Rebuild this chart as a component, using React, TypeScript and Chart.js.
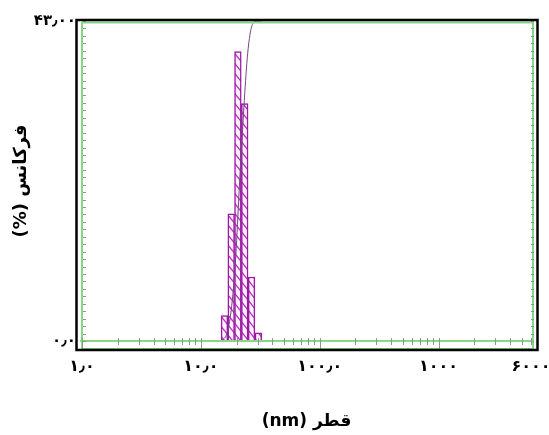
import React, { useEffect, useRef } from 'react';
import { Chart, registerables } from 'chart.js';
Chart.register(...registerables);

// Histogram bins (diameter, nm) and frequency (%)
const binDiameters = [15.8, 18.0, 20.5, 23.4, 26.7, 30.5];
const frequencies = [3.4, 17.1, 38.9, 31.9, 8.6, 1.1];
// Cumulative curve (upper bin edges, %)
const cumulativeDiameters = [14.8, 16.9, 19.2, 21.9, 25.0, 28.5, 32.5];
const cumulativePercent = [0, 3.4, 20.5, 59.4, 91.3, 99.9, 100];
// Axes
const xTickValues = [1, 10, 100, 1000, 6000];
const xTickLabels = ['۱٫۰', '۱۰٫۰', '۱۰۰٫۰', '۱۰۰۰', '۶۰۰۰'];
const yTickValues = [0, 43];
const yTickLabels = ['۰٫۰', '۴۳٫۰۰'];
const xMin = 1;
const xMax = 6000;
const yMax = 43;
const xTitle = '\u202Bقطر (nm)\u202C';
const yTitle = '\u202Bفرکانس (%)\u202C';

const FONT = "'DejaVu Sans', 'Liberation Serif', serif";

function makeHatch(): CanvasPattern | string {
  const c = document.createElement('canvas');
  c.width = 8;
  c.height = 10;
  const g = c.getContext('2d');
  if (!g) return '#f0c0f0';
  g.fillStyle = '#fdf2fd';
  g.fillRect(0, 0, 8, 10);
  g.strokeStyle = '#c030c8';
  g.lineWidth = 1.4;
  g.beginPath();
  g.moveTo(-8, -10);
  g.lineTo(16, 20);
  g.moveTo(-16, -10);
  g.lineTo(8, 20);
  g.moveTo(0, -10);
  g.lineTo(24, 20);
  g.stroke();
  const p = g.createPattern(c, 'repeat');
  return p || '#f0c0f0';
}

const framePlugin = {
  id: 'frame',
  afterDatasetsDraw(chart: any) {
    const { ctx, chartArea } = chart;
    const { left, right, top, bottom } = chartArea;
    const xs = chart.scales.x;
    const ys = chart.scales.y;
    ctx.save();
    // green inner frame
    ctx.strokeStyle = '#86d886';
    ctx.lineWidth = 2;
    ctx.beginPath();
    ctx.moveTo(left, top + 1);
    ctx.lineTo(left, bottom + 9);
    ctx.moveTo(right + 2, top + 1);
    ctx.lineTo(right + 2, bottom + 9);
    ctx.moveTo(left - 2, bottom);
    ctx.lineTo(right + 2, bottom);
    ctx.moveTo(left, top + 1.5);
    ctx.lineTo(right + 2, top + 1.5);
    ctx.moveTo(left, bottom + 8);
    ctx.lineTo(right + 2, bottom + 8);
    ctx.stroke();
    // x minor/major log ticks
    ctx.strokeStyle = '#8a9a8a';
    ctx.lineWidth = 1;
    ctx.beginPath();
    for (let d = 1; d <= 1000; d *= 10) {
      for (let k = 1; k <= 9; k++) {
        const v = d * k;
        if (v > xMax) break;
        const px = Math.round(xs.getPixelForValue(v)) + 0.5;
        if (k === 1) {
          ctx.moveTo(px, bottom - 3);
          ctx.lineTo(px, bottom + 8);
        } else {
          ctx.moveTo(px, bottom - 3);
          ctx.lineTo(px, bottom + 4);
        }
      }
    }
    // y ticks on left and right
    for (let v = 0; v <= yMax; v++) {
      const py = Math.round(ys.getPixelForValue(v)) + 0.5;
      ctx.moveTo(left + 1, py);
      ctx.lineTo(left + 4, py);
      ctx.moveTo(right, py);
      ctx.lineTo(right + 3, py);
    }
    ctx.stroke();
    // black outer frame
    ctx.strokeStyle = '#000000';
    ctx.lineWidth = 2.5;
    ctx.strokeRect(left - 5.5, top - 1, right - left + 12, bottom - top + 10);
    ctx.restore();
  },
};

export default function App() {
  const ref = useRef<HTMLCanvasElement | null>(null);
  useEffect(() => {
    if (!ref.current) return;
    const hatch = makeHatch();
    const chart = new Chart(ref.current, {
      type: 'bar',
      data: {
        datasets: [
          {
            type: 'line',
            data: cumulativeDiameters.map((x, i) => ({ x, y: cumulativePercent[i] })),
            borderColor: '#6e4a7e',
            borderWidth: 1,
            pointRadius: 0,
            cubicInterpolationMode: 'monotone',
            xAxisID: 'x',
            yAxisID: 'y2',
            order: 0,
          } as any,
          {
            type: 'bar',
            data: binDiameters.map((x, i) => ({ x, y: frequencies[i] })),
            backgroundColor: hatch as any,
            borderColor: '#9a1aa4',
            borderWidth: 1.5,
            barPercentage: 1,
            categoryPercentage: 1,
            xAxisID: 'x',
            yAxisID: 'y',
            order: 1,
          } as any,
        ],
      },
      options: {
        responsive: false,
        animation: false,
        layout: { padding: { left: 0, right: 18, top: 21, bottom: 0 } },
        plugins: { legend: { display: false }, tooltip: { enabled: false } },
        scales: {
          x: {
            type: 'logarithmic',
            min: xMin,
            max: xMax,
            position: 'bottom',
            grid: { display: false, drawTicks: false },
            border: { display: false },
            afterBuildTicks: (s: any) => {
              s.ticks = xTickValues.map((v) => ({ value: v }));
            },
            afterFit: (s: any) => {
              s.height = 94;
              s.paddingLeft = 0;
              s.paddingRight = 0;
            },
            ticks: {
              autoSkip: false,
              maxRotation: 0,
              padding: 16,
              color: '#000',
              font: { family: FONT, size: 16, weight: 'bold' },
              callback: (_v: any, i: number) => xTickLabels[i],
            },
            title: {
              display: true,
              text: xTitle,
              color: '#000',
              padding: { top: 0, bottom: 3 },
              font: { family: FONT, size: 17, weight: 'bold' },
            },
          },
          y: {
            type: 'linear',
            min: 0,
            max: yMax,
            position: 'left',
            grid: { display: false, drawTicks: false },
            border: { display: false },
            afterBuildTicks: (s: any) => {
              s.ticks = yTickValues.map((v) => ({ value: v }));
            },
            afterFit: (s: any) => {
              s.width = 82;
              s.paddingTop = 0;
              s.paddingBottom = 0;
            },
            ticks: {
              autoSkip: false,
              padding: 6,
              color: '#000',
              font: { family: FONT, size: 15, weight: 'bold' },
              callback: (_v: any, i: number) => yTickLabels[i],
            },
            title: {
              display: true,
              text: yTitle,
              color: '#000',
              padding: { top: 11, bottom: 0 },
              font: { family: FONT, size: 18, weight: 'bold' },
            },
          },
          y2: { type: 'linear', display: false, min: 0, max: 100 },
        },
      } as any,
      plugins: [framePlugin],
    });
    return () => chart.destroy();
  }, []);
  return (
    <div style={{ position: 'absolute', left: 0, top: 0, width: 549, height: 435, background: '#fff' }}>
      <canvas ref={ref} width={549} height={435} style={{ width: 549, height: 435, display: 'block' }} />
    </div>
  );
}
